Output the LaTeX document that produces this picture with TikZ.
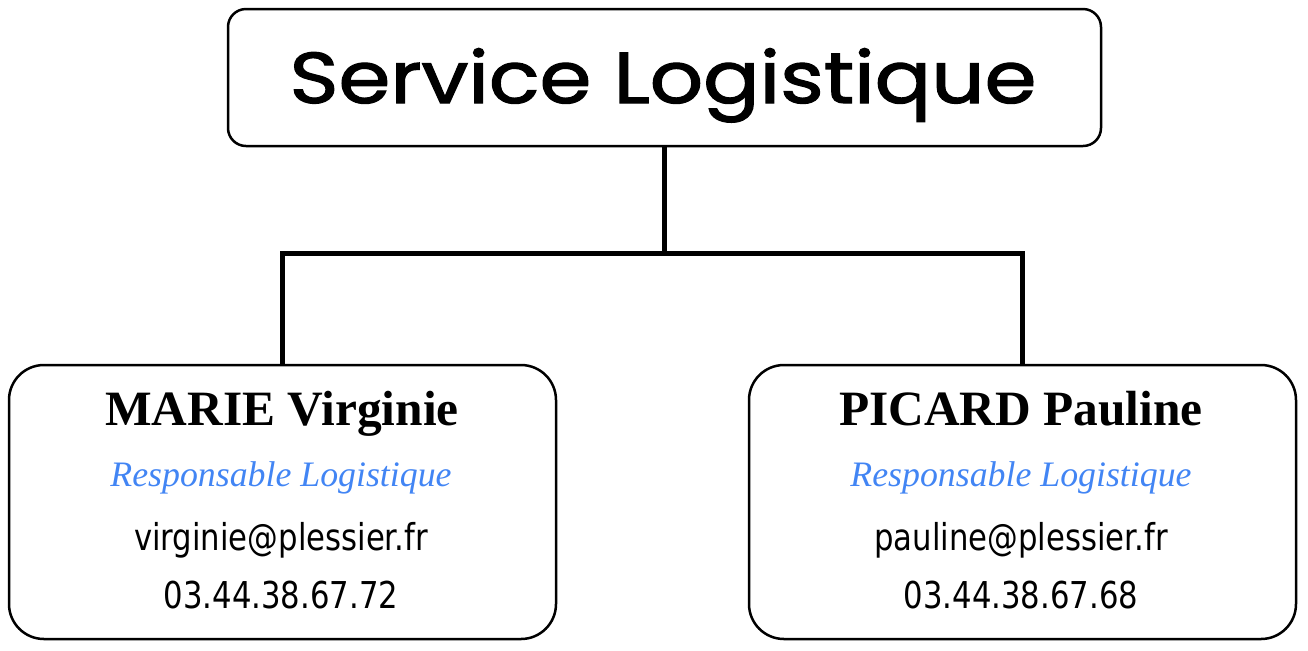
\documentclass[tikz,border=0pt]{standalone}
\usepackage{fontspec}
\setmainfont{Liberation Serif}
\newfontfamily\titlefont[FakeBold=1.6]{Poppins}
\newfontfamily\mailfont{DejaVu Sans}
\definecolor{roleblue}{HTML}{4285F4}
\newcommand{\mailtext}[1]{\scalebox{0.83}[1]{\mailfont\fontsize{18.5pt}{22pt}\selectfont #1}}

\begin{document}
\begin{tikzpicture}[x=0.5pt,y=-0.5pt,
		box/.style={shape=rectangle,draw=black,line width=1.25pt,rounded corners=17.5pt,minimum width=273.5pt,minimum height=137pt,inner sep=0pt},
		link/.style={line width=2.5pt}]
		\useasboundingbox (0,0) rectangle (1308,650);
		\node [box,rounded corners=9pt,minimum width=436.5pt,minimum height=68.5pt] (service) at (664.5,77.5) {};
		\node [anchor=base] (servicetext) at (663,103) {\scalebox{1.16}[1]{\titlefont\fontsize{36pt}{40pt}\selectfont Service Logistique}};
		\node [box] (marie) at (282.5,502) {};
		\node [box] (picard) at (1022.5,502) {};
		\coordinate (split) at (service.south |- 0,253);
		\draw [link] (service.south) -- (split);
		\draw [link] (split) -| (marie.north);
		\draw [link] (split) -| (picard.north);
		% MARIE
		\node [anchor=base] (marie name) at (282,425) {\fontsize{24.7pt}{28pt}\selectfont\bfseries MARIE Virginie};
		\node [anchor=base,text=roleblue] (marie role) at (281,486) {\fontsize{17.9pt}{22pt}\selectfont\itshape Responsable Logistique};
		\node [anchor=base] (marie mail) at (281,550) {\mailtext{virginie@plessier.fr}};
		\node [anchor=base] (marie phone) at (281,608) {\mailtext{03.44.38.67.72}};
		% PICARD
		\node [anchor=base] (picard name) at (1021,425) {\fontsize{24.7pt}{28pt}\selectfont\bfseries PICARD Pauline};
		\node [anchor=base,text=roleblue] (picard role) at (1021,486) {\fontsize{17.9pt}{22pt}\selectfont\itshape Responsable Logistique};
		\node [anchor=base] (picard mail) at (1021,550) {\mailtext{pauline@plessier.fr}};
		\node [anchor=base] (picard phone) at (1021,608) {\mailtext{03.44.38.67.68}};
	\end{tikzpicture}
\end{document}
